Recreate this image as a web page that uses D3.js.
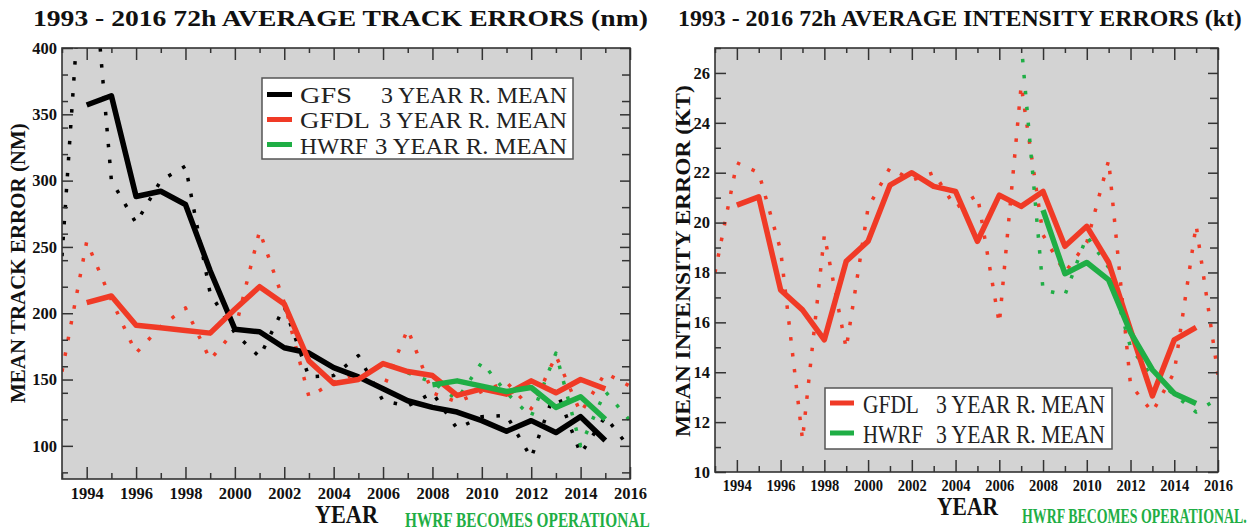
<!DOCTYPE html>
<html><head><meta charset="utf-8">
<script src="https://cdn.jsdelivr.net/npm/d3@7"></script>
<style>body{margin:0;background:#fff}svg{display:block}</style>
</head><body>
<svg id="c" width="1254" height="531"></svg>
<script>
// ---------- DATA ----------
const years = [1993,1994,1995,1996,1997,1998,1999,2000,2001,2002,2003,2004,2005,2006,2007,2008,2009,2010,2011,2012,2013,2014,2015,2016];
const meanYears = [1994,1995,1996,1997,1998,1999,2000,2001,2002,2003,2004,2005,2006,2007,2008,2009,2010,2011,2012,2013,2014,2015];
const hwrfYears = [2007,2008,2009,2010,2011,2012,2013,2014,2015,2016];
const hwrfMeanYears = [2008,2009,2010,2011,2012,2013,2014,2015];

const yearTicks = [1994,1996,1998,2000,2002,2004,2006,2008,2010,2012,2014,2016];
const trackTicks = [100,150,200,250,300,350,400];
const intTicks = [10,12,14,16,18,20,22,24,26];

// Track errors (nm)
const gfsTrack      = [243,520,300,268,300,311,215,185,167,205,152,153,168,134,130,140,113,122,123,91,143,94,122,98];
const gfsTrackMean  = [357,364,288,292,282,232,188,186,174,170,159,152,143,134,129,125.5,119,111,119,110,122,104];
const gfdlTrack     = [156,254,210,170,190,204,165,187,262,208,137,148,155,143,188,140,133,141,148,128,168,125,155,145];
const gfdlTrackMean = [208,213,191,189,187,185,203,220,207,164,147,150,162,156,153,138,143,139,149,140,150,143];
const hwrfTrack     = [155,148,135,163,140,122,170,100,141,119];
const hwrfTrackMean = [146,149,145,141,144,129,137,120];

// Intensity errors (kt)
const gfdlInt     = [18.0,22.4,22.0,18.9,11.3,19.5,14.95,20.6,22.2,21.7,22.0,20.6,21.1,15.95,25.5,19.5,18.0,19.2,22.5,13.5,12.4,14.0,19.9,13.9];
const gfdlIntMean = [20.7,21.03,17.3,16.5,15.3,18.45,19.25,21.5,22.0,21.45,21.25,19.25,21.1,20.65,21.25,19.05,19.85,18.4,15.7,13.05,15.3,15.8];
const hwrfInt     = [27.2,17.3,17.1,19.45,18.2,15.0,13.8,13.1,12.4,12.95];
const hwrfIntMean = [20.5,17.95,18.4,17.7,15.6,14.1,13.15,12.75];

const legendTrack = ["GFS","GFDL","HWRF"];
const legendInt = ["GFDL","HWRF"];

// ---------- STYLE ----------
const serif = "'Liberation Serif','Times New Roman',serif";
const BLACK = "#000", RED = "#f03a26", GREEN = "#1fae45", GRAY = "#d3d3d3", AX = "#333";

const svg = d3.select('#c');

function panel(cfg){
  const {L,R,T,B,id} = cfg;
  const x = d3.scaleLinear().domain([1993,2016]).range([L,R]);
  const y = d3.scaleLinear().domain(cfg.yDomain).range([B,T]);
  const g = svg.append('g');
  g.append('clipPath').attr('id',id).append('rect')
    .attr('x',L).attr('y',T).attr('width',R-L).attr('height',B-T);
  g.append('rect').attr('x',L).attr('y',T).attr('width',R-L).attr('height',B-T).attr('fill',GRAY);

  const line = d3.line().x(d=>x(d[0])).y(d=>y(d[1]));
  const plot = g.append('g').attr('clip-path',`url(#${id})`);
  cfg.series.forEach(s=>{
    const pts = s.years.map((yr,i)=>[yr,s.values[i]]);
    plot.append('path').attr('d',line(pts)).attr('fill','none')
      .attr('stroke',s.color)
      .attr('stroke-width', s.dotted ? 3.5 : 5.5)
      .attr('stroke-dasharray', s.dotted ? '3.5,12.5' : null)
      .attr('stroke-linecap','butt')
      .attr('stroke-linejoin','round');
  });

  const style = sel => { sel.select('.domain').remove();
    sel.selectAll('line').attr('stroke',AX).attr('stroke-width',1.5); };
  const minorX = x.ticks(23).filter(v=>!yearTicks.includes(v));
  const minorY = y.ticks(cfg.minorCount).filter(v=>!cfg.yTicks.includes(v));

  // bottom
  const bx = g.append('g').attr('transform',`translate(0,${B})`)
    .call(d3.axisBottom(x).tickValues(yearTicks).tickSize(-12).tickPadding(8).tickFormat(d3.format('d')));
  style(bx);
  bx.selectAll('text').attr('font-family',serif).attr('font-weight','bold')
    .attr('font-size',cfg.xFont).attr('fill','#111')
    .attr('textLength',cfg.xLabW).attr('lengthAdjust','spacingAndGlyphs');
  g.append('g').attr('transform',`translate(0,${B})`)
    .call(d3.axisBottom(x).tickValues(minorX).tickSize(-6).tickFormat('')).call(style);
  // top
  g.append('g').attr('transform',`translate(0,${T})`)
    .call(d3.axisTop(x).tickValues(yearTicks).tickSize(-12).tickFormat('')).call(style);
  g.append('g').attr('transform',`translate(0,${T})`)
    .call(d3.axisTop(x).tickValues(minorX).tickSize(-5).tickFormat('')).call(style);
  // left
  const ly = g.append('g').attr('transform',`translate(${L},0)`)
    .call(d3.axisLeft(y).tickValues(cfg.yTicks).tickSize(-11).tickPadding(5).tickFormat(d3.format('d')));
  style(ly);
  ly.selectAll('text').attr('font-family',serif).attr('font-weight','bold')
    .attr('font-size',cfg.yFont).attr('fill','#111');
  g.append('g').attr('transform',`translate(${L},0)`)
    .call(d3.axisLeft(y).tickValues(minorY).tickSize(-6).tickFormat('')).call(style);
  // right
  g.append('g').attr('transform',`translate(${R},0)`)
    .call(d3.axisRight(y).tickValues(cfg.yTicks).tickSize(-10).tickFormat('')).call(style);
  g.append('g').attr('transform',`translate(${R},0)`)
    .call(d3.axisRight(y).tickValues(minorY).tickSize(-8).tickFormat('')).call(style);

  // frame
  g.append('rect').attr('x',L).attr('y',T).attr('width',R-L).attr('height',B-T)
    .attr('fill','none').attr('stroke',AX).attr('stroke-width',1.6);
  return g;
}

// text fitted to a target width by a horizontal scale transform
function txt(s, x, y, size, opt={}){
  const t = svg.append('text').text(s).attr('x',0).attr('y',0)
    .attr('font-family',serif).attr('font-size',size)
    .attr('font-weight', opt.bold===false ? 'normal' : 'bold')
    .attr('fill', opt.fill || '#111');
  if (opt.anchor) t.attr('text-anchor',opt.anchor);
  let sx = 1;
  if (opt.w) { const nat = t.node().getComputedTextLength(); if (nat>0) sx = opt.w/nat; }
  t.attr('transform',`translate(${x},${y})${opt.rot?' rotate(-90)':''} scale(${sx},1)`);
  return t;
}

// ---------- LEFT PANEL ----------
panel({id:'clipL', L:62, R:630, T:48, B:479, yDomain:[75,400], yTicks:trackTicks, minorCount:13,
  xFont:17, xLabW:33, yFont:16.5,
  series:[
    {years:years, values:gfsTrack, color:BLACK, dotted:true},
    {years:years, values:gfdlTrack, color:RED, dotted:true},
    {years:hwrfYears, values:hwrfTrack, color:GREEN, dotted:true},
    {years:meanYears, values:gfsTrackMean, color:BLACK},
    {years:meanYears, values:gfdlTrackMean, color:RED},
    {years:hwrfMeanYears, values:hwrfTrackMean, color:GREEN}
  ]});

txt('1993 - 2016  72h AVERAGE TRACK ERRORS (nm)', 33, 26, 23, {w:615});
txt('MEAN TRACK ERROR (NM)', 25, 403, 20, {w:280, rot:true});
txt('YEAR', 315, 523, 25, {w:63});
txt('HWRF BECOMES OPERATIONAL', 405, 527, 21, {w:245, fill:GREEN});

// legend left
svg.append('rect').attr('x',262).attr('y',78).attr('width',311).attr('height',81)
  .attr('fill','#fff').attr('stroke','#555').attr('stroke-width',1.5);
[BLACK,RED,GREEN].forEach((c,i)=>{
  svg.append('line').attr('x1',267).attr('x2',292).attr('y1',94.5+25*i).attr('y2',94.5+25*i)
    .attr('stroke',c).attr('stroke-width',5);
  const by = 102.5+25.5*i;
  txt(legendTrack[i], 300, by, 23, {bold:false, fill:'#222', w:[52,70,68][i]});
  txt('3 YEAR R. MEAN', 567, by, 23, {bold:false, fill:'#222', anchor:'end', w:[186,188,192][i]});
});

// ---------- RIGHT PANEL ----------
panel({id:'clipR', L:715, R:1218, T:48, B:472, yDomain:[10,27], yTicks:intTicks, minorCount:17,
  xFont:16, xLabW:29, yFont:16.5,
  series:[
    {years:years, values:gfdlInt, color:RED, dotted:true},
    {years:hwrfYears, values:hwrfInt, color:GREEN, dotted:true},
    {years:meanYears, values:gfdlIntMean, color:RED},
    {years:hwrfMeanYears, values:hwrfIntMean, color:GREEN}
  ]});

txt('1993 - 2016 72h AVERAGE INTENSITY ERRORS (kt)', 678, 26, 23, {w:564});
txt('MEAN INTENSITY ERROR (KT)', 690, 437, 21.5, {w:352, rot:true});
txt('YEAR', 937, 515, 25, {w:61});
txt('HWRF BECOMES OPERATIONAL.', 1022, 523, 20, {w:225, fill:GREEN});

// legend right
svg.append('rect').attr('x',825).attr('y',388).attr('width',287).attr('height',61)
  .attr('fill','#fff').attr('stroke','#555').attr('stroke-width',1.5);
[RED,GREEN].forEach((c,i)=>{
  svg.append('line').attr('x1',830).attr('x2',854).attr('y1',403+30*i).attr('y2',403+30*i)
    .attr('stroke',c).attr('stroke-width',5);
  txt(legendInt[i], 863, 413+30*i, 26, {bold:false, fill:'#222', w:i===0?56:60});
  txt('3 YEAR R. MEAN', 1105, 413+30*i, 26, {bold:false, fill:'#222', anchor:'end', w:169});
});
</script>
</body></html>
